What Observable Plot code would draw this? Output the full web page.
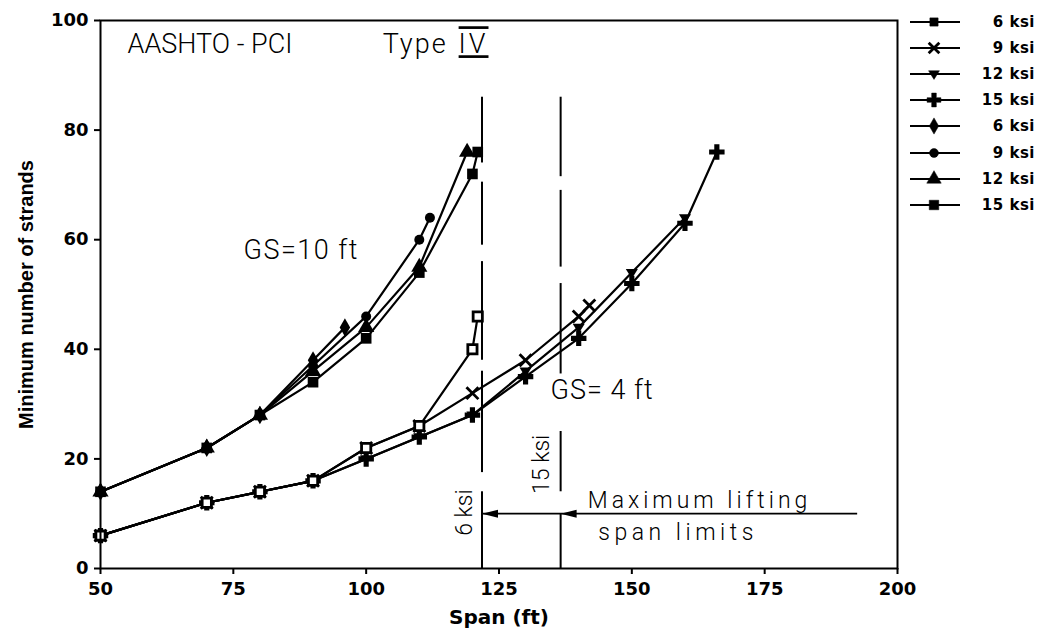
<!DOCTYPE html>
<html>
<head>
<meta charset="utf-8">
<script src="https://cdn.jsdelivr.net/npm/d3@7"></script>
<script src="https://cdn.jsdelivr.net/npm/@observablehq/plot@0.6"></script>
<style>
  body { margin: 0; background: #fff; }
  #chart { position: relative; width: 1043px; height: 638px; }
  #legend { position: absolute; left: 905px; top: 9px; font-family: "DejaVu Sans", sans-serif; font-weight: bold; font-size: 15px; color: #000; }
  #legend .row { display: flex; align-items: center; height: 26.1px; }
  #legend .row span { width: 70px; text-align: right; letter-spacing: 0.5px; }
</style>
</head>
<body>
<div id="chart"></div>
<script>
// Concrete strengths shown in the legend
const strengths = ["6 ksi", "9 ksi", "12 ksi", "15 ksi"];

// Minimum number of strands vs. span, girder spacing 4 ft: [span (ft), strands]
const gs4_6ksi  = [[50, 6], [70, 12], [80, 14], [90, 16], [100, 22], [110, 26], [120, 40], [121, 46]];
const gs4_9ksi  = [[50, 6], [70, 12], [80, 14], [90, 16], [100, 22], [110, 26], [120, 32], [130, 38], [140, 46], [142, 48]];
const gs4_12ksi = [[50, 6], [70, 12], [80, 14], [90, 16], [100, 20], [110, 24], [120, 28], [130, 36], [140, 44], [150, 54], [160, 64]];
const gs4_15ksi = [[50, 6], [70, 12], [80, 14], [90, 16], [100, 20], [110, 24], [120, 28], [130, 35], [140, 42], [150, 52], [160, 63], [166, 76]];

// Girder spacing 10 ft
const gs10_6ksi  = [[50, 14], [70, 22], [80, 28], [90, 38], [96, 44]];
const gs10_9ksi  = [[50, 14], [70, 22], [80, 28], [90, 37], [100, 46], [110, 60], [112, 64]];
const gs10_12ksi = [[50, 14], [70, 22], [80, 28], [90, 36], [100, 44], [110, 55], [119, 76]];
const gs10_15ksi = [[50, 14], [70, 22], [80, 28], [90, 34], [100, 42], [110, 54], [120, 72], [121, 76]];

// Maximum lifting span limits (ft) and the visible pieces of each broken line (strands)
const liftLimit6ksi = 121.8;
const liftLimit15ksi = 136.6;
const limit6Pieces  = [[86, 74], [70.5, 59], [56, 38], [36, 17.5], [14, 0]];
const limit15Pieces = [[86, 71.5], [69, 55], [52, 35.5], [25, 14], [10, 0]];
const arrowLevel = 10;
const arrowStart = 192.5;

const xTicks = [50, 75, 100, 125, 150, 175, 200];
const yTicks = [0, 20, 40, 60, 80, 100];

const rows = (pairs) => pairs.map(([span, strands]) => ({span, strands}));

// Custom marker shapes
const triangleDown = {
  draw(ctx, size) {
    const r = Math.sqrt(size / Math.PI) * 1.1;
    ctx.moveTo(-r, -r * 0.6);
    ctx.lineTo(r, -r * 0.6);
    ctx.lineTo(0, r);
    ctx.closePath();
  }
};
const headLeft = {
  draw(ctx) {
    ctx.moveTo(0, 0);
    ctx.lineTo(16, -4);
    ctx.lineTo(16, 4);
    ctx.closePath();
  }
};

const series = [
  {label: strengths[0], data: gs4_6ksi,  symbol: "square",  fill: "white", stroke: "black", strokeWidth: 2.8, r: 5.2},
  {label: strengths[1], data: gs4_9ksi,  symbol: "times",   fill: "none",  stroke: "black", strokeWidth: 2.8, r: 5.5},
  {label: strengths[2], data: gs4_12ksi, symbol: triangleDown, fill: "black", stroke: "none", strokeWidth: 0, r: 5.5},
  {label: strengths[3], data: gs4_15ksi, symbol: "cross",   fill: "black", stroke: "none", strokeWidth: 0, r: 6.5},
  {label: strengths[0], data: gs10_6ksi,  symbol: "diamond",  fill: "black", stroke: "none", strokeWidth: 0, r: 5.5},
  {label: strengths[1], data: gs10_9ksi,  symbol: "circle",   fill: "black", stroke: "none", strokeWidth: 0, r: 5},
  {label: strengths[2], data: gs10_12ksi, symbol: "triangle", fill: "black", stroke: "none", strokeWidth: 0, r: 6},
  {label: strengths[3], data: gs10_15ksi, symbol: "square",   fill: "black", stroke: "none", strokeWidth: 0, r: 6}
];

// draw order: open squares of the 6 ksi / 4 ft series on top
const dotOrder = [7, 6, 5, 4, 3, 2, 1, 0];

const note = {fontFamily: "Roboto, 'DejaVu Sans', sans-serif", fontWeight: 300, fill: "black"};

const chart = Plot.plot({
  width: 1043,
  height: 638,
  marginLeft: 100,
  marginRight: 146,
  marginTop: 20,
  marginBottom: 70,
  style: {fontFamily: "'DejaVu Sans', sans-serif", color: "black", background: "white"},
  x: {domain: [50, 200]},
  y: {domain: [0, 100]},
  marks: [
    // lifting limit lines
    Plot.ruleX(limit6Pieces.map(([y1, y2]) => ({y1, y2})), {x: () => liftLimit6ksi, y1: "y1", y2: "y2", stroke: "black", strokeWidth: 2}),
    Plot.ruleX(limit15Pieces.map(([y1, y2]) => ({y1, y2})), {x: () => liftLimit15ksi, y1: "y1", y2: "y2", stroke: "black", strokeWidth: 2}),
    Plot.ruleY([arrowLevel], {x1: liftLimit6ksi, x2: arrowStart, stroke: "black", strokeWidth: 1.7}),
    Plot.dot([liftLimit6ksi, liftLimit15ksi], {x: d => d, y: () => arrowLevel, symbol: headLeft, fill: "black", stroke: "none"}),

    // curves
    ...series.map(s => Plot.line(rows(s.data), {x: "span", y: "strands", stroke: "black", strokeWidth: 2.2})),
    ...dotOrder.map(i => {
      const s = series[i];
      return Plot.dot(rows(s.data), {x: "span", y: "strands", symbol: s.symbol, r: s.r, fill: s.fill, stroke: s.stroke, strokeWidth: s.strokeWidth});
    }),

    // annotations
    Plot.text(["AASHTO - PCI"], {x: 55.1, y: 95.6, textAnchor: "start", fontSize: 27, ...note}),
    Plot.text(["Type"], {x: 103.1, y: 95.6, textAnchor: "start", fontSize: 27, ...note}),
    Plot.text(["IV"], {x: 117.4, y: 95.6, textAnchor: "start", fontSize: 27, ...note}),
    Plot.text(["GS=10 ft"], {x: 76.9, y: 58, textAnchor: "start", fontSize: 27, ...note}),
    Plot.text(["GS= 4 ft"], {x: 134.7, y: 32.5, textAnchor: "start", fontSize: 27, ...note}),
    Plot.text(["Maximum lifting"], {x: 141.7, y: 12.4, textAnchor: "start", fontSize: 23, ...note}),
    Plot.text(["span limits"], {x: 143.7, y: 6.6, textAnchor: "start", fontSize: 23, ...note}),
    Plot.text(["6 ksi"], {x: 118.5, y: 10.2, rotate: -90, fontSize: 23, ...note}),
    Plot.text(["15 ksi"], {x: 133, y: 19, rotate: -90, fontSize: 23, ...note}),

    // axes and frame
    Plot.axisX({ticks: xTicks, tickSize: 6, tickPadding: 8, fontSize: 18, fontWeight: "bold", strokeWidth: 2, label: null}),
    Plot.axisY({ticks: yTicks, tickSize: 6, tickPadding: 6, fontSize: 18, fontWeight: "bold", strokeWidth: 2, label: null}),
    Plot.text(["Span (ft)"], {frameAnchor: "bottom", dy: 55, fontSize: 20, fontWeight: "bold"}),
    Plot.text(["Minimum number of strands"], {frameAnchor: "left", textAnchor: "middle", dx: -74, rotate: -90, fontSize: 20, fontWeight: "bold", fontFamily: "'Liberation Sans', sans-serif"}),
    Plot.frame({stroke: "black", strokeWidth: 2})
  ]
});

// Letter spacing of the hand-lettered annotations
const spacing = {"Type": "2px", "IV": "3px", "GS=10 ft": "1.5px", "GS= 4 ft": "1px", "Maximum lifting": "4px", "span limits": "4.5px"};
d3.select(chart).selectAll("text").each(function () {
  const t = this.textContent;
  if (spacing[t]) d3.select(this).style("letter-spacing", spacing[t]);
  if (t === "IV") d3.select(this).style("text-decoration", "underline overline");
});

const container = document.getElementById("chart");
container.appendChild(chart);

// Legend
const legend = d3.select(container).append("div").attr("id", "legend");
series.forEach(s => {
  const row = legend.append("div").attr("class", "row");
  const svg = row.append("svg").attr("width", 60).attr("height", 20);
  svg.append("line").attr("x1", 5).attr("x2", 55).attr("y1", 10).attr("y2", 10).attr("stroke", "black").attr("stroke-width", 2.2);
  const type = typeof s.symbol === "string"
    ? {square: d3.symbolSquare, times: d3.symbolTimes, cross: d3.symbolCross, diamond: d3.symbolDiamond, circle: d3.symbolCircle, triangle: d3.symbolTriangle}[s.symbol]
    : s.symbol;
  svg.append("path")
    .attr("transform", "translate(29,10)")
    .attr("d", d3.symbol(type, Math.PI * s.r * s.r * 0.8)())
    .attr("fill", s.symbol === "times" ? "none" : "black")
    .attr("stroke", "black")
    .attr("stroke-width", s.symbol === "times" ? 2.8 : 0.5);
  row.append("span").text(s.label);
});
</script>
</body>
</html>
